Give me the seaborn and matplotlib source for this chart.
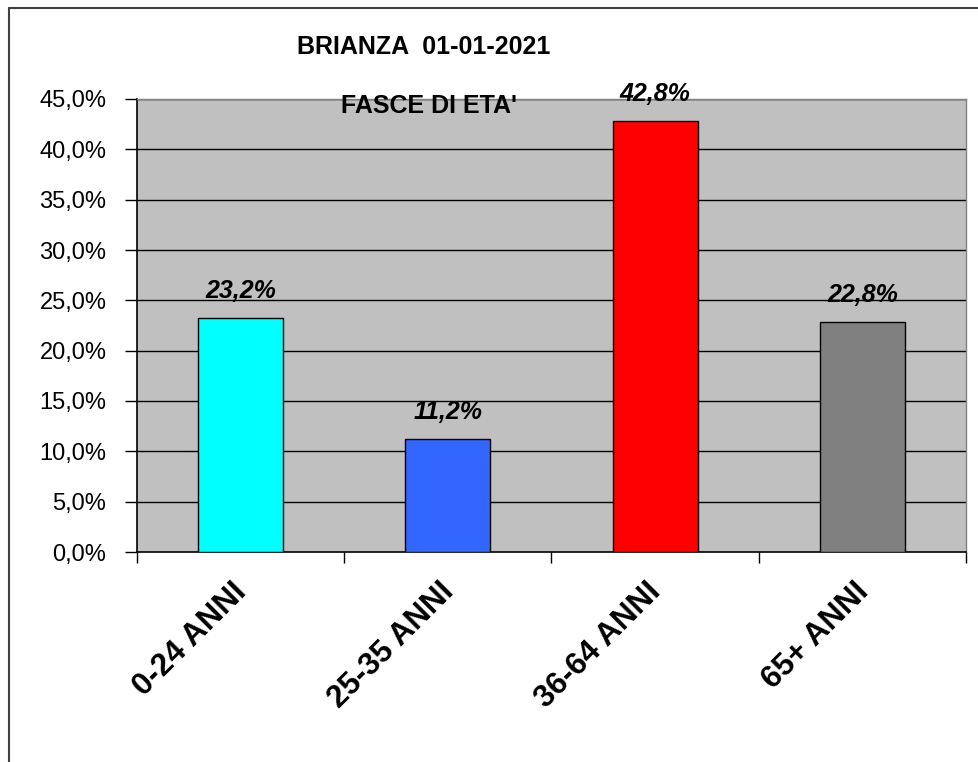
import numpy as np
import matplotlib
matplotlib.use("Agg")
import matplotlib.pyplot as plt
import matplotlib.transforms as mtrans
import seaborn as sns
import pandas as pd
from matplotlib.lines import Line2D

# dati: fasce di eta' Brianza al 01-01-2021
fasce = ["0-24 ANNI", "25-35 ANNI", "36-64 ANNI", "65+ ANNI"]
quote = [23.2, 11.2, 42.8, 22.8]
colori = ["#00FFFF", "#3366FF", "#FF0000", "#808080"]
yticks = [0, 5, 10, 15, 20, 25, 30, 35, 40, 45]

df = pd.DataFrame({"fascia": fasce, "quota": quote})

sns.set_theme(style="white")
plt.rcParams['font.family'] = ['Liberation Sans', 'DejaVu Sans']
plt.rcParams['text.color'] = 'black'
plt.rcParams['xtick.color'] = 'black'
plt.rcParams['ytick.color'] = 'black'

fig = plt.figure(figsize=(9.79, 7.62), dpi=100)
ax = fig.add_axes([137 / 979, 1 - 552 / 762, (966 - 137) / 979, (552 - 99) / 762])
ax.set_facecolor("#C0C0C0")

sns.barplot(data=df, x="fascia", y="quota", hue="fascia", palette=colori, saturation=1,
            width=0.41, edgecolor="black", linewidth=1, legend=False, ax=ax, zorder=3)

ax.set_ylim(0, 45)
ax.set_xlim(-0.5, 3.5)
ax.set_yticks(yticks)
ax.set_yticklabels([f"{v:.1f}%".replace(".", ",") for v in yticks], fontsize=17)
for y in yticks[1:]:
    ax.axhline(y, color="black", lw=1, zorder=1)

ax.set_xticks(range(len(fasce)))
ax.set_xticklabels(fasce, rotation=45, ha="right", rotation_mode="anchor",
                   fontsize=22.5, fontweight="bold")
ax.tick_params(axis="x", which="major", length=0, pad=18)
spost = mtrans.ScaledTranslation(-9 / 100, 0, fig.dpi_scale_trans)
for t in ax.get_xticklabels():
    t.set_transform(t.get_transform() + spost)
ax.set_xticks(np.arange(-0.5, 4, 1), minor=True)
ax.tick_params(axis="x", which="minor", length=8, width=1, color="black", direction="out", bottom=True)
ax.tick_params(axis="y", length=9, width=1, color="black", direction="out", left=True, pad=13)
ax.set_xlabel("")
ax.set_ylabel("")

for side in ["left", "bottom"]:
    ax.spines[side].set_color("black")
    ax.spines[side].set_linewidth(1.2)
for side in ["top", "right"]:
    ax.spines[side].set_color("#808080")
    ax.spines[side].set_linewidth(1)

for cont in ax.containers:
    for b in cont:
        if b is None:
            continue
        v = b.get_height()
        ax.annotate(f"{v:.1f}%".replace(".", ","), (b.get_x() + b.get_width() / 2, v),
                    xytext=(0, 14.5), textcoords="offset points", ha="center", va="baseline",
                    fontsize=18, fontweight="bold", fontstyle="italic")

fig.text(424 / 979, 1 - 47 / 762, "BRIANZA  01-01-2021", ha="center", va="center",
         fontsize=18, fontweight="bold")
fig.text(429 / 979, 1 - 106 / 762, "FASCE DI ETA'", ha="center", va="center",
         fontsize=18, fontweight="bold")

# cornice esterna
fig.add_artist(Line2D([9 / 979, 9 / 979], [0, 1 - 8 / 762], color="#404040", lw=1.5,
                      transform=fig.transFigure))
fig.add_artist(Line2D([9 / 979, 1], [1 - 8 / 762, 1 - 8 / 762], color="#404040", lw=1.5,
                      transform=fig.transFigure))

fig.savefig("out.png", dpi=100)
